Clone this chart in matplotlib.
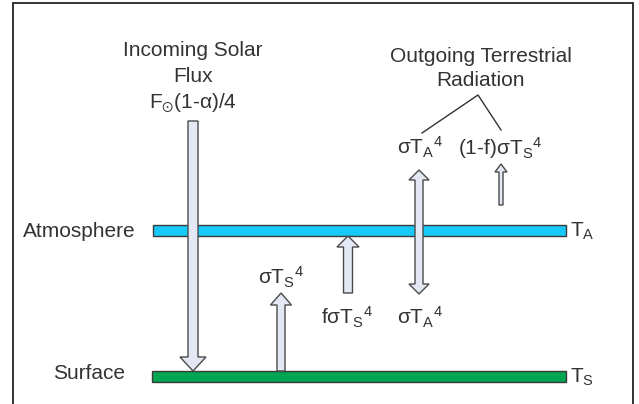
import matplotlib
matplotlib.use("Agg")
import matplotlib.pyplot as plt
from matplotlib.patches import Rectangle, Polygon

plt.rcParams['font.family'] = ['Liberation Sans', 'DejaVu Sans']
plt.rcParams['mathtext.fontset'] = 'custom'
plt.rcParams['mathtext.rm'] = 'Liberation Sans'
plt.rcParams['mathtext.it'] = 'Liberation Sans'
plt.rcParams['mathtext.sf'] = 'Liberation Sans'
plt.rcParams['mathtext.bf'] = 'Liberation Sans:bold'
plt.rcParams['mathtext.default'] = 'rm'
plt.rcParams['mathtext.fallback'] = 'stixsans'

# ---- content ----
layer_names = ['Atmosphere', 'Surface']
layer_temps = ['T$_{A}$', 'T$_{S}$']
incoming_lines = ['Incoming Solar', 'Flux', r'F$_{\odot}$(1-α)/4']
outgoing_lines = ['Outgoing Terrestrial', 'Radiation']
flux_labels = {
    'surface_emit': 'σT$_{S}{}^{4}$',
    'absorbed': 'fσT$_{S}{}^{4}$',
    'atm_down': 'σT$_{A}{}^{4}$',
    'atm_up': 'σT$_{A}{}^{4}$',
    'transmitted': '(1-f)σT$_{S}{}^{4}$',
}

# ---- layout (pixel coordinates, y down) ----
W, H = 639, 404
fig = plt.figure(figsize=(W / 100, H / 100), dpi=100)
ax = fig.add_axes([0, 0, 1, 1])
ax.set_xlim(0, W)
ax.set_ylim(H, 0)
ax.axis('off')

TXT = '#333333'
FS = 15

# frame
ax.plot([12.5, 12.5, 633, 633], [H, 2.5, 2.5, H], color='#222222', lw=1.3,
        solid_joinstyle='miter')

# layers
bars = [(153, 225, 566, 236, '#16C9F6'), (152, 371, 566, 382, '#00A651')]
name_x = [23, 53]
name_base = [237, 379]
temp_base = [237, 383]
for (x0, y0, x1, y1, c), nm, nx, nb, tl, tb in zip(bars, layer_names, name_x,
                                                   name_base, layer_temps, temp_base):
    ax.add_patch(Rectangle((x0, y0), x1 - x0, y1 - y0, facecolor=c,
                           edgecolor='#3a3a3a', lw=1.0, zorder=2))
    ax.text(nx, nb, nm, fontsize=FS, color=TXT, ha='left', va='baseline')
    ax.text(570, tb, tl, fontsize=FS, color=TXT, ha='left', va='baseline')


def block_arrow(x, y_tail, y_tip, sw, hw, hl, double=False):
    d = 1 if y_tip > y_tail else -1
    s, h = sw / 2, hw / 2
    yb = y_tip - d * hl
    if double:
        ya = y_tail + d * hl
        pts = [(x - s, ya), (x - h, ya), (x, y_tail), (x + h, ya), (x + s, ya),
               (x + s, yb), (x + h, yb), (x, y_tip), (x - h, yb), (x - s, yb)]
    else:
        pts = [(x - s, y_tail), (x + s, y_tail), (x + s, yb), (x + h, yb),
               (x, y_tip), (x - h, yb), (x - s, yb)]
    ax.add_patch(Polygon(pts, closed=True, facecolor='#E3E8F4',
                         edgecolor='#4a4a4a', lw=1.0, joinstyle='miter', zorder=3))


# arrows
block_arrow(193, 121, 371, 10, 26, 14)          # incoming solar
block_arrow(281, 371, 293, 8, 21, 12)           # surface emission
block_arrow(348, 293, 236, 9, 22, 11)           # absorbed by atmosphere
block_arrow(419, 170, 294, 8, 20, 10, double=True)  # atmosphere up/down
block_arrow(501, 205, 164, 4, 12, 8)            # transmitted

# incoming text
for line, yb in zip(incoming_lines, [55.7, 82.5, 108]):
    ax.text(193, yb, line, fontsize=FS, color=TXT, ha='center', va='baseline')

# outgoing text
for line, yb in zip(outgoing_lines, [61.5, 86.5]):
    ax.text(481, yb, line, fontsize=FS, color=TXT, ha='center', va='baseline')
ax.plot([422, 478, 501], [133, 95, 130], color='#333333', lw=1.0)

# flux labels
ax.text(397, 155, flux_labels['atm_up'], fontsize=FS, color=TXT, ha='left', va='baseline')
ax.text(458, 155, flux_labels['transmitted'], fontsize=FS, color=TXT, ha='left', va='baseline')
ax.text(258, 285, flux_labels['surface_emit'], fontsize=FS, color=TXT, ha='left', va='baseline')
ax.text(321, 324, flux_labels['absorbed'], fontsize=FS, color=TXT, ha='left', va='baseline')
ax.text(397, 325, flux_labels['atm_down'], fontsize=FS, color=TXT, ha='left', va='baseline')

fig.savefig('out.png', dpi=100, facecolor='white')
